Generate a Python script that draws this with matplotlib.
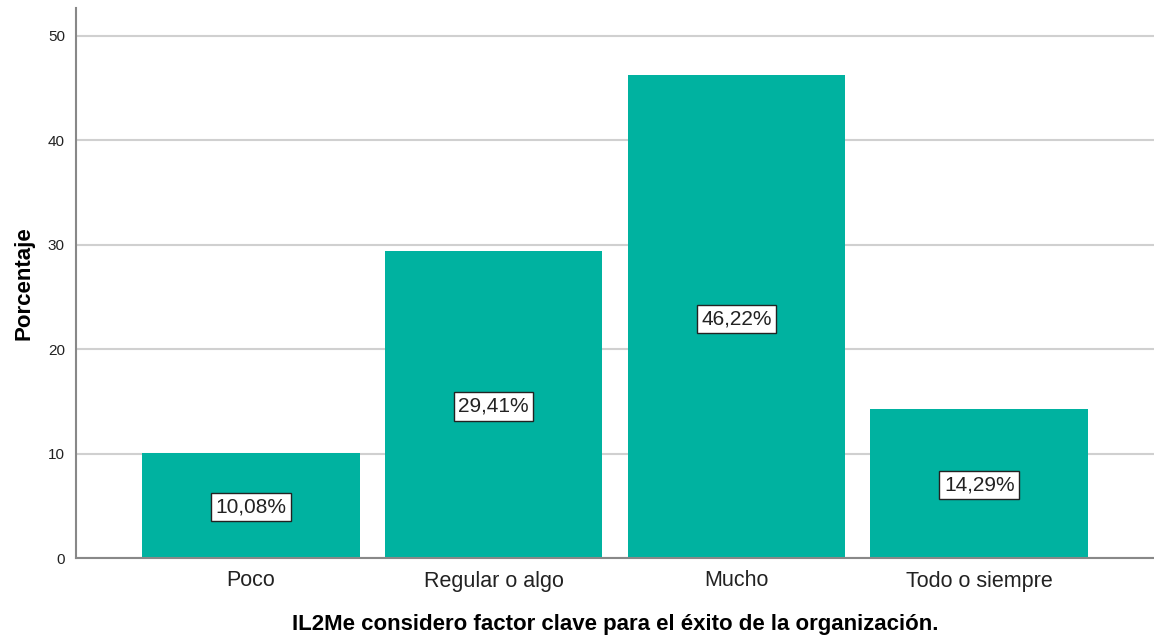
import matplotlib
matplotlib.use("Agg")
import matplotlib.pyplot as plt

categories = ["Poco", "Regular o algo", "Mucho", "Todo o siempre"]
values = [10.08, 29.41, 46.22, 14.29]
labels = ["10,08%", "29,41%", "46,22%", "14,29%"]
yticks = [0, 10, 20, 30, 40, 50]

plt.rcParams['font.family'] = ['Liberation Sans', 'DejaVu Sans']

fig = plt.figure(figsize=(11.54, 6.37), dpi=100)
ax = fig.add_axes([76/1154, 1 - 558/637, (1154-76)/1154, (558-8)/637])

x = list(range(len(categories)))
ax.bar(x, values, width=0.897, color="#00B2A0", zorder=2)
ax.set_xlim(-0.72, 3.72)
ax.set_ylim(0, 52.68)
ax.set_yticks(yticks)
ax.set_xticks(x)
ax.set_xticklabels(categories, fontsize=15.5, color="#222222")
ax.tick_params(axis='y', labelsize=11, length=0, pad=8, colors="#222222")
ax.tick_params(axis='x', length=0, pad=9)
ax.yaxis.grid(True, color="#d0d0d0", linewidth=1.5, zorder=0)
ax.set_axisbelow(True)
for s in ["top", "right"]:
    ax.spines[s].set_visible(False)
for s in ["left", "bottom"]:
    ax.spines[s].set_color("#888888")
    ax.spines[s].set_linewidth(1.5)

for xi, v, lab in zip(x, values, labels):
    ax.text(xi, v / 2, lab, ha="center", va="center_baseline", fontsize=15, color="#222222",
            bbox=dict(boxstyle="square,pad=0.22", facecolor="white", edgecolor="#222222", linewidth=1),
            zorder=3)

ax.set_ylabel("Porcentaje", fontsize=16, fontweight="bold", labelpad=10)
ax.set_xlabel("IL2Me considero factor clave para el éxito de la organización.", fontsize=16,
              fontweight="bold", labelpad=16)

fig.savefig("out.png", dpi=100)
